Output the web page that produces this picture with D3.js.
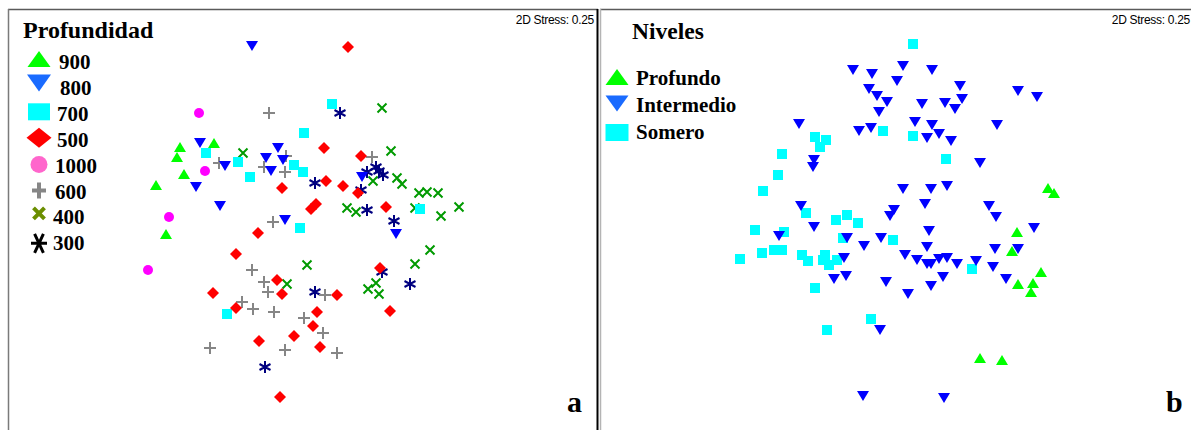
<!DOCTYPE html>
<html>
<head>
<meta charset="utf-8">
<script src="https://cdn.jsdelivr.net/npm/d3@7"></script>
<style>
  body { margin: 0; background: #fff; }
  svg { display: block; }
</style>
</head>
<body>
<svg id="chart" width="1191" height="430"></svg>
<script>
// ---- nMDS ordination scores (dimension 1, dimension 2) ----

// Panel a: samples grouped by depth (m)
const depth900 = [[-1.23,0.73],[-0.89,0.77],[-1.26,0.63],[-1.19,0.46],[-1.47,0.35],[-1.37,-0.14]];
const depth800 = [[-0.51,1.74],[-1.03,0.77],[-0.25,0.72],[-0.37,0.62],[-0.20,0.60],[-0.78,0.54],
                  [-0.32,0.49],[-1.07,0.33],[-0.83,0.14],[-0.18,0.00],[0.59,0.43],[0.93,-0.14]];
const depth700 = [[-0.97,0.67],[-0.65,0.58],[-0.53,0.43],[-0.09,0.55],[0.01,0.87],[0.00,0.48],
                  [0.29,1.16],[1.17,0.11],[-0.03,-0.08],[-0.76,-0.94]];
const depth500 = [[0.45,1.73],[0.21,0.72],[0.58,0.64],[-0.21,0.32],[0.23,0.39],[0.40,0.34],
                  [0.55,0.27],[0.08,0.11],[0.13,0.16],[0.83,0.13],[-0.45,-0.13],[-0.67,-0.34],
                  [-0.26,-0.60],[-0.21,-0.74],[-0.90,-0.73],[0.34,-0.75],[-0.67,-0.88],[0.14,-0.92],
                  [0.10,-1.06],[-0.09,-1.16],[-0.44,-1.21],[0.17,-1.27],[0.77,-0.48],[0.87,-0.91],
                  [-0.23,-1.77]];
const depth1000 = [[-1.04,1.07],[-0.98,0.49],[-1.34,0.03],[-1.55,-0.50]];
const depth600 = [[-0.34,1.07],[-0.84,0.57],[-0.39,0.53],[-0.17,0.64],[-0.18,0.48],[0.69,0.63],
                  [-0.30,-0.02],[-0.51,-0.50],[-0.39,-0.62],[-0.35,-0.72],[-0.61,-0.82],[-0.50,-0.89],
                  [-0.29,-0.92],[0.01,-0.98],[0.22,-0.75],[-0.93,-1.28],[-0.18,-1.30],[0.20,-1.13],
                  [0.34,-1.33]];
const depth400 = [[-0.60,0.67],[0.79,1.12],[0.88,0.69],[0.94,0.42],[0.99,0.36],[0.70,0.39],
                  [1.16,0.27],[1.24,0.28],[1.35,0.27],[1.56,0.13],[0.44,0.12],[0.53,0.08],
                  [1.12,0.12],[1.38,0.04],[1.27,-0.30],[1.12,-0.44],[0.73,-0.63],[0.65,-0.69],
                  [0.76,-0.74],[0.04,-0.45],[-0.16,-0.64]];
const depth300 = [[0.37,1.07],[0.12,0.37],[0.64,0.48],[0.73,0.53],[0.80,0.45],[0.76,0.49],
                  [0.58,0.30],[0.64,0.10],[0.91,-0.01],[0.79,-0.52],[1.07,-0.64],[0.12,-0.72],
                  [-0.38,-1.47]];

// Panel b: samples grouped by level
const levelProfundo = [[1.53,0.32],[1.59,0.27],[1.22,-0.12],[1.17,-0.31],[1.46,-0.52],
                       [1.23,-0.64],[1.38,-0.63],[1.36,-0.72],[0.85,-1.38],[1.07,-1.40]];
const levelSomero = [[0.18,1.76],[-0.80,0.83],[-0.69,0.80],[-0.75,0.73],[-1.13,0.66],[-1.17,0.45],
                     [-1.32,0.29],[-0.12,0.89],[0.18,0.84],[0.51,0.61],[-0.89,0.07],[-0.48,0.05],
                     [-0.59,0.00],[-0.37,-0.03],[-1.40,-0.10],[-1.11,-0.12],[-0.52,-0.18],[-0.02,-0.20],
                     [-1.55,-0.39],[-1.33,-0.33],[-1.21,-0.30],[-1.13,-0.30],[-0.93,-0.35],[-0.87,-0.41],
                     [-0.70,-0.35],[-0.72,-0.40],[-0.66,-0.45],[-0.58,-0.40],[-0.80,-0.68],[-0.24,-0.99],
                     [-0.68,-1.10],[0.77,-0.49]];
const levelIntermedio = [[0.08,1.54],[0.37,1.50],[-0.42,1.50],[-0.23,1.46],[0.02,1.39],[0.65,1.34],
                         [-0.26,1.31],[1.23,1.29],[-0.18,1.24],[1.42,1.23],[-0.08,1.18],[0.27,1.16],
                         [0.50,1.17],[0.67,1.21],[0.60,1.11],[-0.16,1.08],[0.20,0.98],[0.37,0.95],
                         [1.02,0.95],[-0.24,0.92],[-0.36,0.89],[-0.96,0.96],[0.44,0.86],[0.32,0.82],
                         [0.56,0.79],[-0.81,0.60],[-0.82,0.53],[0.85,0.57],[0.08,0.31],[0.36,0.31],
                         [0.52,0.34],[0.30,0.16],[0.94,0.14],[-0.94,0.14],[-0.01,0.10],[-0.05,0.04],
                         [1.01,0.03],[-0.81,-0.07],[-1.16,-0.16],[-0.48,-0.18],[-0.31,-0.26],[-0.14,-0.18],
                         [-0.51,-0.38],[-0.61,-0.59],[-0.49,-0.56],[-0.09,-0.62],[-0.15,-1.10],[-0.32,-1.76],
                         [0.34,-0.11],[1.39,-0.08],[0.32,-0.27],[1.00,-0.29],[1.23,-0.29],[0.10,-0.35],
                         [0.22,-0.40],[0.32,-0.44],[0.36,-0.44],[0.44,-0.39],[0.52,-0.38],[0.62,-0.44],
                         [0.81,-0.41],[0.98,-0.47],[0.48,-0.57],[1.11,-0.59],[0.36,-0.66],[0.13,-0.74],
                         [0.49,-1.78]];

// Legend labels
const depthLabels = ["900", "800", "700", "500", "1000", "600", "400", "300"];
const levelLabels = ["Profundo", "Intermedio", "Somero"];
const stressLabel = "2D Stress: 0.25";

// ---- marker shapes (paths centred on 0,0) ----
const shapes = {
  triUp:   (w, h) => `M0,${-h/2}L${w/2},${h/2}L${-w/2},${h/2}Z`,
  triDown: (w, h) => `M${-w/2},${-h/2}L${w/2},${-h/2}L0,${h/2}Z`,
  square:  (w, h) => `M${-w/2},${-h/2}H${w/2}V${h/2}H${-w/2}Z`,
  diamond: (w, h) => `M0,${-h/2}L${w/2},0L0,${h/2}L${-w/2},0Z`,
  circle:  (w)    => { const r = w/2; return `M${r},0A${r},${r} 0 1,1 ${-r},0A${r},${r} 0 1,1 ${r},0Z`; },
  plus:    (w, h) => `M${-w/2},0H${w/2}M0,${-h/2}V${h/2}`,
  cross:   (w, h) => `M${-w/2},${-h/2}L${w/2},${h/2}M${-w/2},${h/2}L${w/2},${-h/2}`,
  star:    (w, h) => {
    const a = h/2, dx = (w/2), dy = a*0.5;
    return `M0,${-a}V${a}M${-dx},${-dy}L${dx},${dy}M${-dx},${dy}L${dx},${-dy}`;
  },
  starH:   (w, h) => {
    const b = w/2, dy = h/2, dx = b*0.55;
    return `M${-b},0H${b}M${-dx},${-dy}L${dx},${dy}M${-dx},${dy}L${dx},${-dy}`;
  }
};

// Style of each depth group: data marker and legend marker
const depthStyles = [
  { data: depth900,  shape: "triUp",   w: 12, h: 10, fill: "#00ff00", lw: 23, lh: 16, lfill: "#00ff00", dy: -2, lx: 59 },
  { data: depth800,  shape: "triDown", w: 12, h: 10, fill: "#0000ff", lw: 24, lh: 17, lfill: "#1a6bff", dy: -4, lx: 60 },
  { data: depth700,  shape: "square",  w: 10, h: 10, fill: "#00ffff", lw: 22, lh: 17, lfill: "#00ffff", dy: -1, lx: 57 },
  { data: depth500,  shape: "diamond", w: 12, h: 12, fill: "#ff0000", lw: 25, lh: 20, lfill: "#ff0000", dy: -1, lx: 57 },
  { data: depth1000, shape: "circle",  w: 10, h: 10, fill: "#ff00ff", lw: 17, lh: 17, lfill: "#ff66cc", dy: 0, lx: 55 },
  { data: depth600,  shape: "plus",    w: 12, h: 12, stroke: "#868686", sw: 2, lw: 14, lh: 16, lstroke: "#868686", lsw: 4, dy: 0, lx: 55 },
  { data: depth400,  shape: "cross",   w: 9,  h: 9,  stroke: "#009a00", sw: 2, lw: 11, lh: 11, lstroke: "#6b8e00", lsw: 4, dy: -3, lx: 53 },
  { data: depth300,  shape: "star",    w: 11, h: 12, stroke: "#000080", sw: 2, lshape: "starH", lw: 16, lh: 19, lstroke: "#000000", lsw: 3, dy: 1, lx: 53 }
];

const svg = d3.select("#chart");

// ---- scales ----
const yScale = d3.scaleLinear().domain([2.11, -2.10]).range([9, 430]);
const xScaleA = d3.scaleLinear().domain([-2.95, 2.95]).range([8, 598]);
const xScaleB = d3.scaleLinear().domain([-2.95, 2.96]).range([600, 1191]);

// ---- panel frames ----
const frame = svg.append("g");
frame.append("line").attr("x1", 8).attr("x2", 598).attr("y1", 9.5).attr("y2", 9.5)
  .attr("stroke", "#5a5a5a").attr("stroke-width", 1.5);
frame.append("line").attr("x1", 8.5).attr("x2", 8.5).attr("y1", 9).attr("y2", 430)
  .attr("stroke", "#7a7a7a").attr("stroke-width", 1.5);
frame.append("line").attr("x1", 597.5).attr("x2", 597.5).attr("y1", 9).attr("y2", 430)
  .attr("stroke", "#000").attr("stroke-width", 2);
frame.append("line").attr("x1", 600).attr("x2", 1191).attr("y1", 9.5).attr("y2", 9.5)
  .attr("stroke", "#5a5a5a").attr("stroke-width", 1.5);
frame.append("line").attr("x1", 600.5).attr("x2", 600.5).attr("y1", 9).attr("y2", 430)
  .attr("stroke", "#b4b4b4").attr("stroke-width", 1.5);

function drawMarkers(g, pts, xs, shape, w, h, fill, stroke, sw) {
  g.selectAll(null).data(pts).enter().append("path")
    .attr("d", shapes[shape](w, h))
    .attr("transform", d => `translate(${xs(d[0])},${yScale(d[1])})`)
    .attr("fill", fill || "none")
    .attr("stroke", stroke || "none")
    .attr("stroke-width", sw || 0);
}

// ---- panel a ----
const pa = svg.append("g");
const drawOrderA = [7, 6, 5, 4, 1, 0, 2, 3];
drawOrderA.forEach(i => {
  const s = depthStyles[i];
  drawMarkers(pa, s.data, xScaleA, s.shape, s.w, s.h, s.fill, s.stroke, s.sw);
});

pa.append("text").attr("x", 23).attr("y", 38)
  .attr("font-family", "'Liberation Serif', 'Times New Roman', serif")
  .attr("font-weight", "bold").attr("font-size", 24).text("Profundidad");

const legA = pa.append("g");
depthLabels.forEach((lab, i) => {
  const s = depthStyles[i];
  const base = 69 + 25.9 * i;
  legA.append("path")
    .attr("d", shapes[s.lshape || s.shape](s.lw, s.lh))
    .attr("transform", `translate(39,${base - 8 + s.dy})`)
    .attr("fill", s.lfill || "none")
    .attr("stroke", s.lstroke || "none")
    .attr("stroke-width", s.lsw || 0);
  legA.append("text").attr("x", s.lx).attr("y", base)
    .attr("font-family", "'Liberation Serif', 'Times New Roman', serif")
    .attr("font-weight", "bold").attr("font-size", 21).text(lab);
});

pa.append("text").attr("x", 594).attr("y", 24).attr("text-anchor", "end")
  .attr("font-family", "'Liberation Sans', Arial, sans-serif")
  .attr("font-size", 12).attr("letter-spacing", -0.3).text(stressLabel);

pa.append("text").attr("x", 567).attr("y", 412)
  .attr("font-family", "'Liberation Serif', 'Times New Roman', serif")
  .attr("font-weight", "bold").attr("font-size", 30).text("a");

// ---- panel b ----
const pb = svg.append("g");
const levelStyles = [
  { data: levelProfundo,   shape: "triUp",   w: 12, h: 10, fill: "#00ff00", lfill: "#00ff00", lw: 23, lh: 16 },
  { data: levelIntermedio, shape: "triDown", w: 12, h: 10, fill: "#0000ff", lfill: "#1a6bff", lw: 23, lh: 16 },
  { data: levelSomero,     shape: "square",  w: 10, h: 10, fill: "#00ffff", lfill: "#00ffff", lw: 23, lh: 17 }
];
[2, 0, 1].forEach(i => {
  const s = levelStyles[i];
  drawMarkers(pb, s.data, xScaleB, s.shape, s.w, s.h, s.fill);
});

pb.append("text").attr("x", 632).attr("y", 39)
  .attr("font-family", "'Liberation Serif', 'Times New Roman', serif")
  .attr("font-weight", "bold").attr("font-size", 23.5).text("Niveles");

const levelSymbolY = [77, 103.5, 132.5];
levelLabels.forEach((lab, i) => {
  const s = levelStyles[i];
  const base = 85 + 27 * i;
  pb.append("path")
    .attr("d", shapes[s.shape](s.lw, s.lh))
    .attr("transform", `translate(617,${levelSymbolY[i]})`)
    .attr("fill", s.lfill);
  pb.append("text").attr("x", 636).attr("y", base)
    .attr("font-family", "'Liberation Serif', 'Times New Roman', serif")
    .attr("font-weight", "bold").attr("font-size", 21).text(lab);
});

pb.append("text").attr("x", 1190).attr("y", 24).attr("text-anchor", "end")
  .attr("font-family", "'Liberation Sans', Arial, sans-serif")
  .attr("font-size", 12).attr("letter-spacing", -0.3).text(stressLabel);

pb.append("text").attr("x", 1166).attr("y", 412)
  .attr("font-family", "'Liberation Serif', 'Times New Roman', serif")
  .attr("font-weight", "bold").attr("font-size", 30).text("b");
</script>
</body>
</html>
